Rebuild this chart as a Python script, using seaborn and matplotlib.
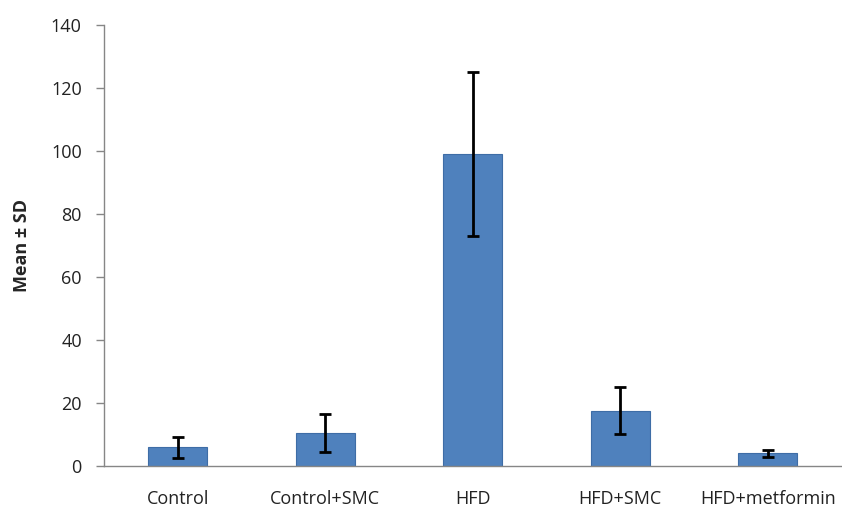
import numpy as np
import matplotlib
matplotlib.use("Agg")
import matplotlib.pyplot as plt
import seaborn as sns

GROUPS = ["Control", "Control+SMC", "HFD", "HFD+SMC", "HFD+metformin"]
MEANS  = [6.0, 10.5, 99.0, 17.6, 4.0]
SDS    = [3.3, 6.0, 26.0, 7.4, 1.1]
Y_TICKS = [0, 20, 40, 60, 80, 100, 120, 140]

BAR_COLOR  = "#4F81BD"
AXIS_COLOR = "#868686"


def main():
    sns.set_theme(style="white")
    plt.rcParams["font.family"] = ["Open Sans", "DejaVu Sans"]

    fig = plt.figure(figsize=(8.42, 5.11), dpi=100)
    ax = fig.add_axes([0.1235, 0.088, 0.876, 0.863])

    sns.barplot(x=GROUPS, y=MEANS, color=BAR_COLOR, width=0.4,
                edgecolor="#3E6DA6", linewidth=0.8, saturation=1, ax=ax)
    ax.errorbar(np.arange(len(GROUPS)), MEANS, yerr=SDS, fmt="none",
                ecolor="black", elinewidth=2, capsize=4, capthick=2)

    ax.set_xlim(-0.5, len(GROUPS) - 0.5)
    ax.set_ylim(0, 140)
    ax.set_yticks(Y_TICKS)
    ax.tick_params(axis="y", labelsize=13, length=6, width=1,
                   color=AXIS_COLOR, left=True, pad=10, labelcolor="#222222")
    ax.tick_params(axis="x", labelsize=13, length=0, pad=17, labelcolor="#222222")
    ax.set_ylabel("Mean ± SD", fontsize=13, fontweight="bold", labelpad=14)

    sns.despine(ax=ax, top=True, right=True)
    for side in ("left", "bottom"):
        ax.spines[side].set_color(AXIS_COLOR)
        ax.spines[side].set_linewidth(1)

    fig.savefig("out.png", dpi=100)
    plt.close(fig)


if __name__ == "__main__":
    main()
